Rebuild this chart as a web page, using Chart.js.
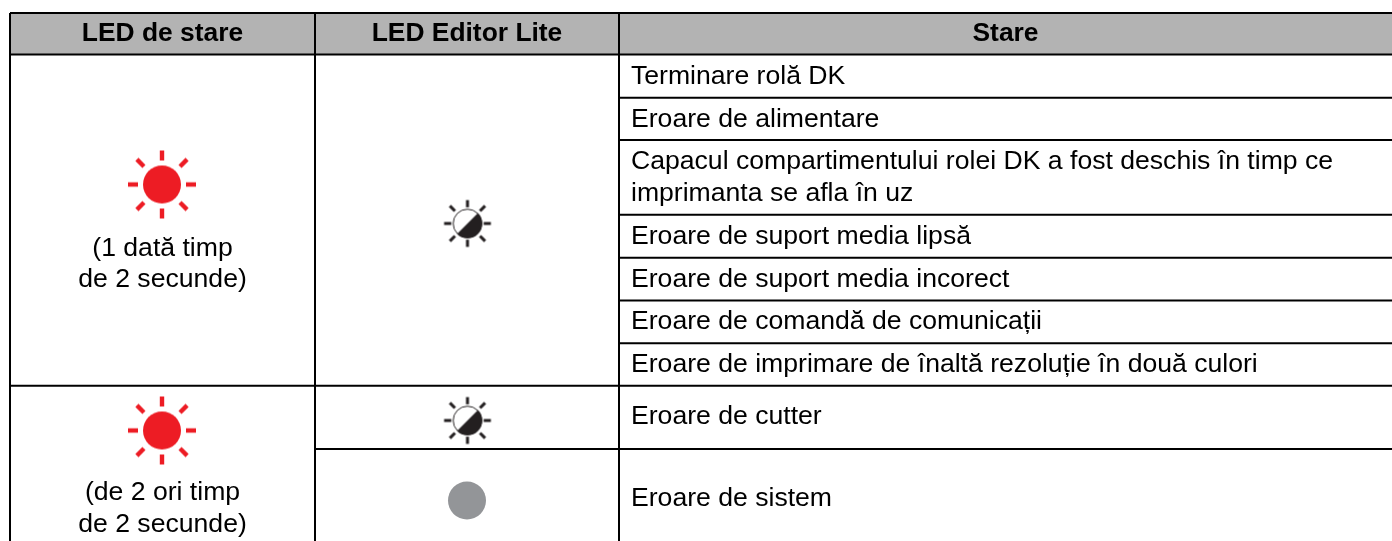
<!DOCTYPE html>
<html lang="ro">
<head>
<meta charset="utf-8">
<title>LED de stare</title>
<script src="https://cdn.jsdelivr.net/npm/chart.js@4"></script>
<style>
  html, body { margin: 0; padding: 0; background: #fff; }
  canvas { display: block; }
</style>
</head>
<body>
<canvas id="ledChart" width="1392" height="541"></canvas>
<script>
// table content
const headers = ['LED de stare', 'LED Editor Lite', 'Stare'];
const ledNotes = [
  ['(1 dată timp', 'de 2 secunde)'],
  ['(de 2 ori timp', 'de 2 secunde)']
];
const states = [
  ['Terminare rolă DK'],
  ['Eroare de alimentare'],
  ['Capacul compartimentului rolei DK a fost deschis în timp ce', 'imprimanta se afla în uz'],
  ['Eroare de suport media lipsă'],
  ['Eroare de suport media incorect'],
  ['Eroare de comandă de comunicații'],
  ['Eroare de imprimare de înaltă rezoluție în două culori'],
  ['Eroare de cutter'],
  ['Eroare de sistem']
];

// table layout, in page pixels (the axes run 0-1392 and 0-541)
const columnLines = [10, 315, 619];
const columnCentres = [162.5, 467, 1005.5];
const stateTextX = 631;
const headerTop = 13;
const headerBottom = 54.5;
const headerBaseline = 40.5;
const fullLines = [13, 54.5, 385.7];
const stateLines = [97.7, 140, 214.7, 257.7, 300.5, 343.3];
const secondLine = 449;
const stateBaselines = [[83.5], [126.5], [168.5, 200.5], [243.5], [286.5], [329], [372], [424], [506]];
const noteBaselines = [[256, 287], [500, 532]];

const redSuns = [{ x: 162, y: 184.5 }, { x: 162, y: 430.5 }];
const halfSuns = [{ x: 467.5, y: 223.5 }, { x: 467.5, y: 420.5 }];
const greyDots = [{ x: 467, y: 500.5 }];

const RED = '#ed1c24';
const DARK = '#231f20';
const GREY = '#939598';
const HEADER_FILL = '#b3b3b3';

// sun icon is used as a pointStyle so the scales place it
function makeSun(size, radius, rayFrom, rayTo, rayWidth, color, half) {
  const c = document.createElement('canvas');
  c.width = size;
  c.height = size;
  const ctx = c.getContext('2d');
  ctx.translate(size / 2, size / 2);
  ctx.strokeStyle = color;
  ctx.lineWidth = rayWidth;
  for (let i = 0; i < 8; i++) {
    const a = i * Math.PI / 4;
    const extra = i % 2 ? 1.5 : 0;
    ctx.beginPath();
    ctx.moveTo(Math.cos(a) * (rayFrom + extra), Math.sin(a) * (rayFrom + extra));
    ctx.lineTo(Math.cos(a) * (rayTo + extra), Math.sin(a) * (rayTo + extra));
    ctx.stroke();
  }
  ctx.fillStyle = color;
  ctx.beginPath();
  if (half) {
    // dark lower right half, thin outline round the white half
    ctx.arc(0, 0, radius, -Math.PI / 4, Math.PI * 3 / 4);
    ctx.closePath();
    ctx.fill();
    ctx.lineWidth = 1;
    ctx.beginPath();
    ctx.arc(0, 0, radius - 0.5, 0, Math.PI * 2);
    ctx.stroke();
  } else {
    ctx.arc(0, 0, radius, 0, Math.PI * 2);
    ctx.fill();
  }
  return c;
}

function segments(lines) {
  const points = [];
  lines.forEach(function (l) {
    points.push({ x: l[0], y: l[1] }, { x: l[2], y: l[3] }, { x: NaN, y: NaN });
  });
  return points;
}

const gridSegments = [];
fullLines.forEach(y => gridSegments.push([columnLines[0], y, 1392, y]));
stateLines.forEach(y => gridSegments.push([columnLines[2], y, 1392, y]));
gridSegments.push([columnLines[1], secondLine, 1392, secondLine]);
columnLines.forEach(x => gridSegments.push([x, headerTop, x, 541]));

// all the text goes through the same scales as the marks
const tableText = {
  id: 'tableText',
  afterDatasetsDraw(chart) {
    const ctx = chart.ctx;
    const xs = chart.scales.x;
    const ys = chart.scales.y;
    ctx.save();
    ctx.fillStyle = '#000';
    ctx.textBaseline = 'alphabetic';

    ctx.font = 'bold 26.4px "Liberation Sans"';
    ctx.textAlign = 'center';
    headers.forEach(function (h, i) {
      ctx.fillText(h, xs.getPixelForValue(columnCentres[i]), ys.getPixelForValue(headerBaseline));
    });

    ctx.font = '26.6px "Liberation Sans"';
    ledNotes.forEach(function (note, i) {
      note.forEach(function (line, j) {
        ctx.fillText(line, xs.getPixelForValue(columnCentres[0]), ys.getPixelForValue(noteBaselines[i][j]));
      });
    });

    ctx.textAlign = 'left';
    states.forEach(function (state, i) {
      state.forEach(function (line, j) {
        ctx.fillText(line, xs.getPixelForValue(stateTextX), ys.getPixelForValue(stateBaselines[i][j]));
      });
    });
    ctx.restore();
  }
};

const chartCanvas = document.querySelector('#ledChart');

new Chart(chartCanvas, {
  type: 'scatter',
  data: {
    datasets: [
      {
        // header band
        data: [{ x: columnLines[0], y: headerTop }, { x: 1392, y: headerTop }],
        showLine: true,
        pointRadius: 0,
        borderWidth: 0,
        backgroundColor: HEADER_FILL,
        fill: { value: headerBottom },
        order: 3
      },
      {
        data: segments(gridSegments),
        showLine: true,
        spanGaps: false,
        pointRadius: 0,
        borderColor: '#000',
        borderWidth: 2,
        order: 2
      },
      {
        data: redSuns,
        pointStyle: makeSun(76, 19, 24, 34, 4.4, RED, false),
        order: 1
      },
      {
        data: halfSuns,
        pointStyle: makeSun(56, 14.8, 16.2, 23.4, 3, DARK, true),
        order: 1
      },
      {
        data: greyDots,
        pointStyle: 'circle',
        pointRadius: 19,
        pointBackgroundColor: GREY,
        pointBorderWidth: 0,
        order: 1
      }
    ]
  },
  options: {
    responsive: false,
    animation: false,
    events: [],
    layout: { padding: 0, autoPadding: false },
    plugins: {
      legend: { display: false },
      tooltip: { enabled: false }
    },
    scales: {
      x: { type: 'linear', display: false, min: 0, max: 1392 },
      y: { type: 'linear', display: false, min: 0, max: 541, reverse: true }
    }
  },
  plugins: [tableText]
});
</script>
</body>
</html>
